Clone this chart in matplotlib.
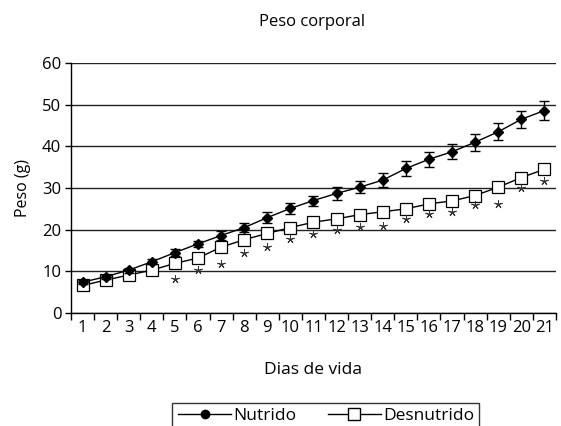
import numpy as np
import matplotlib
matplotlib.use("Agg")
import matplotlib.pyplot as plt
from matplotlib.lines import Line2D

plt.rcParams['font.family'] = ['Open Sans', 'DejaVu Sans']

dias = list(range(1, 22))
nutrido = [7.4, 8.7, 10.3, 12.3, 14.5, 16.6, 18.6, 20.5, 22.9, 25.1, 27.0,
           28.7, 30.2, 31.9, 34.7, 36.9, 38.7, 41.0, 43.5, 46.5, 48.6]
nutrido_err = [0.5, 0.5, 0.6, 0.6, 0.8, 0.8, 1.0, 1.1, 1.4, 1.35, 1.2,
               1.5, 1.5, 1.6, 1.8, 1.8, 1.75, 2.0, 2.0, 2.1, 2.3]
desnutrido = [6.6, 7.9, 9.1, 10.3, 11.9, 13.2, 15.8, 17.6, 19.1, 20.5, 21.8,
              22.6, 23.6, 24.3, 25.0, 26.2, 26.9, 28.2, 30.2, 32.5, 34.5]
# asterisks (significance) under Desnutrido, days 5-21
dias_sig = list(range(5, 22))
sig_y = [8.1, 10.3, 11.8, 14.4, 15.8, 17.7, 19.0, 19.9, 20.7, 20.9, 22.5,
         23.8, 24.3, 25.9, 26.2, 29.9, 31.8]

fig = plt.figure(figsize=(5.61, 4.26), dpi=100)
ax = fig.add_axes([0.1266, 0.2653, 0.8644, 0.5867])

ax.errorbar(dias, nutrido, yerr=nutrido_err, color='black', lw=1.0,
            marker='D', ms=5.5, capsize=3.3, elinewidth=1.0, capthick=1.0, zorder=4)
ax.plot(dias, desnutrido, color='black', lw=1.0, marker='s', ms=8.5,
        mfc='white', mec='black', mew=0.9, zorder=3)
ax.plot(dias_sig, sig_y, ls='none', marker=(5, 2, 0), ms=6, mew=0.7,
        color='#333333', zorder=5)

ax.set_xlim(0.5, 21.5)
ax.set_ylim(0, 60)
ax.set_yticks(range(0, 61, 10))
ax.yaxis.grid(True, color='#222222', lw=1.0)
ax.set_axisbelow(True)
ax.set_xticks(dias)
ax.set_xticks(np.arange(0.5, 22, 1), minor=True)
ax.tick_params(axis='x', which='major', length=0, labelsize=12, pad=5)
ax.tick_params(axis='x', which='minor', length=5, width=1.0, direction='out')
ax.tick_params(axis='y', length=4, width=1.0, labelsize=12, pad=3)
for s in ['top', 'right']:
    ax.spines[s].set_visible(False)
ax.spines['left'].set_linewidth(1.0)
ax.spines['bottom'].set_linewidth(1.0)

ax.set_ylabel('Peso (g)', fontsize=11.5, labelpad=8)
ax.set_xlabel('Dias de vida', fontsize=12.5, labelpad=19)
fig.text(0.556, 0.948, 'Peso corporal', ha='center', va='center', fontsize=12)

handles = [Line2D([], [], color='black', lw=1.0, marker='o', ms=6),
           Line2D([], [], color='black', lw=1.0, marker='s', ms=8, mfc='white')]
leg = fig.legend(handles, ['Nutrido', 'Desnutrido'], loc='upper center',
                 bbox_to_anchor=(0.581, 0.055), ncol=2, frameon=True, fancybox=False,
                 edgecolor='black', fontsize=12.5, handlelength=3.1, columnspacing=1.8,
                 borderpad=0.3, handletextpad=0.1, borderaxespad=0)
leg.get_frame().set_linewidth(1.0)

fig.savefig('out.png', dpi=100)
